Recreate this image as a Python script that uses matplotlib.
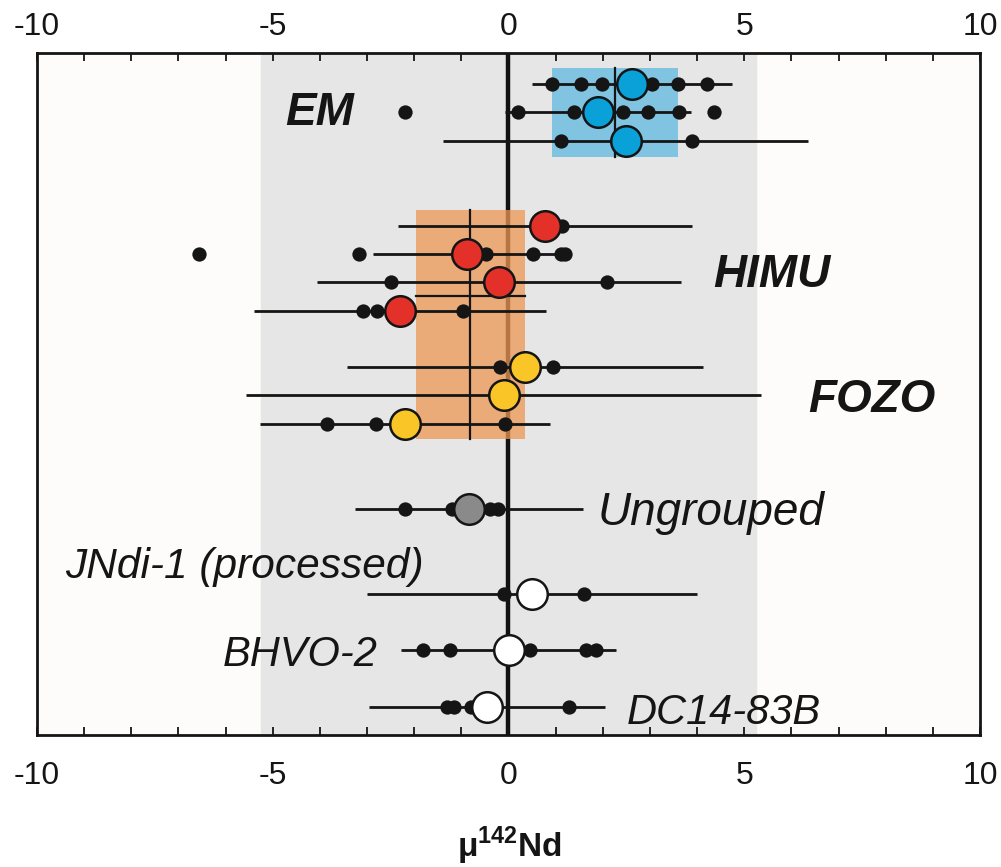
import matplotlib
matplotlib.use("Agg")
import matplotlib.pyplot as plt
from matplotlib.patches import Rectangle

plt.rcParams['font.family'] = ['Liberation Sans', 'DejaVu Sans']
plt.rcParams['mathtext.fontset'] = 'custom'
plt.rcParams['mathtext.rm'] = 'Liberation Sans'
plt.rcParams['mathtext.bf'] = 'Liberation Sans:bold'

# ---------------- data ----------------
row_pos = [1, 2, 3, 6, 7, 8, 9, 11, 12, 13, 16, 19, 21, 23]
row_mean = [2.62, 1.90, 2.49, 0.77, -0.88, -0.20, -2.30, 0.35, -0.10, -2.20, -0.84, 0.50, 0.01, -0.45]
row_err = [2.12, 1.98, 3.87, 3.12, 2.00, 3.86, 3.10, 3.77, 5.46, 3.07, 2.42, 3.50, 2.28, 2.50]
row_group = ['EM', 'EM', 'EM', 'HIMU', 'HIMU', 'HIMU', 'HIMU', 'FOZO', 'FOZO', 'FOZO',
             'Ungrouped', 'Std', 'Std', 'Std']
row_dots = [
    [0.92, 1.54, 1.98, 3.04, 3.60, 4.20],
    [-2.19, 0.20, 1.39, 2.43, 2.96, 3.62, 4.35],
    [1.11, 3.90],
    [1.13],
    [-6.56, -3.17, -0.48, 0.52, 1.11, 1.20],
    [-2.49, 2.09],
    [-3.09, -2.79, -0.97],
    [-0.18, 0.94],
    [],
    [-3.85, -2.81, -0.07],
    [-2.19, -1.20, -0.39, -0.22],
    [-0.10, 1.60],
    [-1.81, -1.24, 0.46, 1.64, 1.86],
    [-1.30, -1.15, -0.80, 1.29],
]
group_colors = {'EM': '#0aa0d8', 'HIMU': '#e3312a', 'FOZO': '#fac526',
                'Ungrouped': '#8a8a8a', 'Std': '#ffffff'}

# group mean boxes
em_box_x = [0.92, 3.60]
em_box_mean = 2.26
em_box_rows = [1, 3]
hf_box_x = [-1.96, 0.35]
hf_box_mean = -0.82
hf_box_rows = [6, 13]
hf_box_sep_row = 8.5

band_x = [-5.25, 5.25]

labels = [
    ('EM', -4.74, 2.45, 'bold', 33),
    ('HIMU', 4.34, 8.17, 'bold', 33),
    ('FOZO', 6.35, 12.58, 'bold', 33),
    ('Ungrouped', 1.88, 16.57, 'normal', 33),
    ('JNdi-1 (processed)', -9.41, 18.45, 'normal', 30.5),
    ('BHVO-2', -6.06, 21.55, 'normal', 30),
    ('DC14-83B', 2.51, 23.62, 'normal', 30),
]

xticks_major = [-10, -5, 0, 5, 10]
xticks_minor = list(range(-10, 11))

# ---------------- figure ----------------
fig = plt.figure(figsize=(10.01, 8.67), dpi=100)
ax = fig.add_axes([37 / 1001, 1 - 735 / 867, (980 - 37) / 1001, (735 - 53) / 867])
ax.set_facecolor('#fdfcfa')
ax.set_xlim(-10, 10)
ax.set_ylim(24.0, -0.1)

ax.axvspan(band_x[0], band_x[1], color='#e6e6e6', zorder=0)
ax.axvline(0, color='#111111', lw=3.2, zorder=1)

pad = 0.57
ax.add_patch(Rectangle((em_box_x[0], em_box_rows[0] - pad), em_box_x[1] - em_box_x[0],
                       em_box_rows[1] - em_box_rows[0] + 2 * pad,
                       facecolor='#80c4e2', edgecolor='none', zorder=1.5))
ax.add_patch(Rectangle((hf_box_x[0], hf_box_rows[0] - 0.55), hf_box_x[1] - hf_box_x[0],
                       hf_box_rows[1] - hf_box_rows[0] + 1.1,
                       facecolor='#ee9753', alpha=0.75, edgecolor='none', zorder=2))
ax.plot([em_box_mean, em_box_mean], [em_box_rows[0] - pad, em_box_rows[1] + pad],
        color='#151515', lw=1.6, zorder=3)
ax.plot([hf_box_mean, hf_box_mean], [hf_box_rows[0] - 0.55, hf_box_rows[1] + 0.55],
        color='#151515', lw=1.6, zorder=3)
ax.plot(hf_box_x, [hf_box_sep_row, hf_box_sep_row], color='#151515', lw=1.6, zorder=3)

for y, m, e, g, dots in zip(row_pos, row_mean, row_err, row_group, row_dots):
    ax.plot([m - e, m + e], [y, y], color='#151515', lw=2.0, zorder=3, solid_capstyle='butt')
    if dots:
        ax.plot(dots, [y] * len(dots), 'o', color='#151515', ms=10.3, mec='none', zorder=4)
    ax.plot([m], [y], 'o', ms=22, mfc=group_colors[g], mec='#151515', mew=1.8, zorder=5)

for txt, x, y, w, fs in labels:
    ax.text(x, y, txt, fontsize=fs, fontstyle='italic', fontweight=w, color='#151515',
            ha='left', va='baseline', zorder=6)

for s in ax.spines.values():
    s.set_linewidth(2.0)
    s.set_color('#151515')

ax.set_yticks([])
ax.set_xticks(xticks_major)
ax.set_xticks(xticks_minor, minor=True)
ax.set_xticklabels([str(t) for t in xticks_major])
ax.tick_params(axis='x', which='both', direction='in', length=6, width=1.3,
               top=True, bottom=True, labelsize=23, pad=19, colors='#151515')

sec = ax.secondary_xaxis('top')
sec.set_xticks(xticks_major)
sec.set_xticklabels([str(t) for t in xticks_major])
sec.tick_params(axis='x', which='both', direction='in', length=0, labelsize=23, pad=8,
                colors='#151515')
sec.spines['top'].set_visible(False)

fig.text(509 / 1001, 1 - 857 / 867, 'μ$^{\\mathbf{142}}$Nd', fontsize=24, fontweight='bold',
         ha='center', va='baseline', color='#151515')

fig.savefig('out.png', dpi=100)
